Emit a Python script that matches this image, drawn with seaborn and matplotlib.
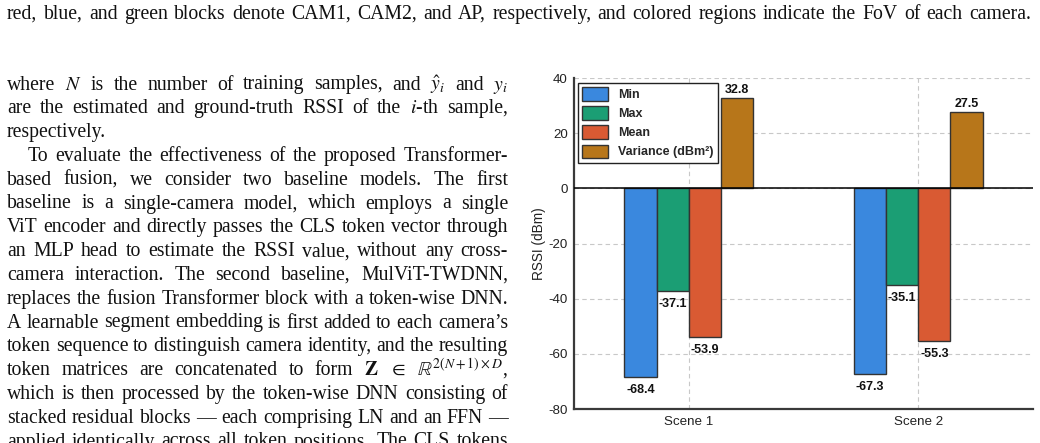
import re

import matplotlib
matplotlib.use("Agg")
import matplotlib.pyplot as plt
import numpy as np
import pandas as pd
import seaborn as sns


W, H = 1040, 443

SCENES = ["Scene 1", "Scene 2"]
STATS = ["Min", "Max", "Mean", "Variance (dBm²)"]
MIN_VALS = [-68.4, -67.3]
MAX_VALS = [-37.1, -35.1]
MEAN_VALS = [-53.9, -55.3]
VAR_VALS = [32.8, 27.5]
COLORS = ["#3A88DE", "#1B9E74", "#D95A33", "#B7761A"]
Y_TICKS = [-80, -60, -40, -20, 0, 20, 40]

CAPTION = ("red, blue, and green blocks denote CAM1, CAM2, and AP, respectively, "
           "and colored regions indicate the FoV of each camera.")

# (text, indent, justified)
BODY = [
    (r"where $N$ is the number of training samples, and $\hat{y}_i$ and $y_i$", False, True),
    (r"are the estimated and ground-truth RSSI of the $i$-th sample,", False, True),
    ("respectively.", False, False),
    ("To evaluate the effectiveness of the proposed Transformer-", True, True),
    ("based fusion, we consider two baseline models. The first", False, True),
    ("baseline is a single-camera model, which employs a single", False, True),
    ("ViT encoder and directly passes the CLS token vector through", False, True),
    ("an MLP head to estimate the RSSI value, without any cross-", False, True),
    ("camera interaction. The second baseline, MulViT-TWDNN,", False, True),
    ("replaces the fusion Transformer block with a token-wise DNN.", False, True),
    ("A learnable segment embedding is first added to each camera’s", False, True),
    ("token sequence to distinguish camera identity, and the resulting", False, True),
    (r"token matrices are concatenated to form $\mathbf{Z}$ $\in$ $\mathbb{R}^{2(N+1)\times D}$,", False, True),
    ("which is then processed by the token-wise DNN consisting of", False, True),
    ("stacked residual blocks — each comprising LN and an FFN —", False, True),
    ("applied identically across all token positions. The CLS tokens", False, True),
]


def place_line(fig, renderer, text, x0, x1, y, justify, **kw):
    words = re.findall(r"(?:\$[^$]*\$|[^\s$])+", text)
    items = [fig.text(0, 1 - y / H, w, va="baseline", **kw) for w in words]
    widths = [t.get_window_extent(renderer).width for t in items]
    if justify and len(words) > 1:
        gap = (x1 - x0 - sum(widths)) / (len(words) - 1)
    else:
        space = fig.text(0, 0, "a a", **kw)
        single = fig.text(0, 0, "aa", **kw)
        gap = space.get_window_extent(renderer).width - single.get_window_extent(renderer).width
        space.remove()
        single.remove()
    x = x0
    for t, w in zip(items, widths):
        t.set_x(x / W)
        x += w + gap


def draw_text(fig):
    renderer = fig.canvas.get_renderer()
    kw = dict(fontsize=14.2, family="Liberation Serif", math_fontfamily="stix", color="#111111")
    place_line(fig, renderer, CAPTION, 7, 1031, 19, True, **kw)
    for i, (line, indent, just) in enumerate(BODY):
        x0 = 28 if indent else 7
        place_line(fig, renderer, line, x0, 508, 89.5 + 23.8 * i, just, **kw)


def draw_chart(fig):
    df = pd.DataFrame({
        "scene": SCENES * 4,
        "stat": np.repeat(STATS, len(SCENES)),
        "value": MIN_VALS + MAX_VALS + MEAN_VALS + VAR_VALS,
    })
    ax = fig.add_axes([574 / W, 1 - 409 / H, (1033 - 574) / W, (409 - 78) / H])
    sns.barplot(data=df, x="scene", y="value", hue="stat", order=SCENES, hue_order=STATS,
                palette=COLORS, width=0.56, gap=0, saturation=1, edgecolor="#333333",
                linewidth=1.0, errorbar=None, ax=ax, zorder=3)
    ax.set_xlim(-0.5, 1.5)
    ax.set_ylim(-80, 40)
    ax.set_yticks(Y_TICKS)
    ax.axhline(0, color="black", linewidth=1.1, zorder=4)

    for container, stat in zip(ax.containers, STATS):
        pad = 1.5 if stat.startswith("Variance") else 5.0
        ax.bar_label(container, fmt="%.1f", padding=pad, fontsize=9, fontweight="bold", color="#111111")

    ax.set_xlabel("")
    ax.set_ylabel("RSSI (dBm)", fontsize=9.8, color="#222222", labelpad=2)
    ax.grid(True, axis="both", color="#C8C8C8", linestyle=(0, (4, 3)), linewidth=0.8)
    ax.set_axisbelow(True)
    for side in ["top", "right"]:
        ax.spines[side].set_visible(False)
    for side in ["left", "bottom"]:
        ax.spines[side].set_color("#3A3A3A")
        ax.spines[side].set_linewidth(1.6)
    ax.tick_params(axis="y", direction="out", length=3, width=1, color="#333333",
                   labelsize=9.6, labelcolor="#222222", pad=1.5)
    ax.tick_params(axis="x", direction="in", length=5, width=1, color="#333333",
                   labelsize=9.6, labelcolor="#222222", pad=5)

    handles, labels = ax.get_legend_handles_labels()
    leg = ax.legend(handles, labels, loc="upper left", bbox_to_anchor=(0.008, 0.985),
                    frameon=True, fancybox=False, edgecolor="#222222", framealpha=1,
                    prop={"weight": "bold", "size": 9}, handlelength=2.1, handleheight=1.25,
                    labelspacing=0.42, borderpad=0.35, handletextpad=0.8, borderaxespad=0)
    leg.get_frame().set_linewidth(1.0)


def main() -> None:
    sns.set_theme(style="whitegrid")
    plt.rcParams["font.family"] = ["Liberation Sans", "DejaVu Sans"]
    plt.rcParams["axes.unicode_minus"] = False
    fig = plt.figure(figsize=(W / 100, H / 100), dpi=100)
    fig.patch.set_facecolor("white")
    draw_chart(fig)
    draw_text(fig)
    fig.savefig("out.png", dpi=100, facecolor="white")
    plt.close(fig)


if __name__ == "__main__":
    main()
